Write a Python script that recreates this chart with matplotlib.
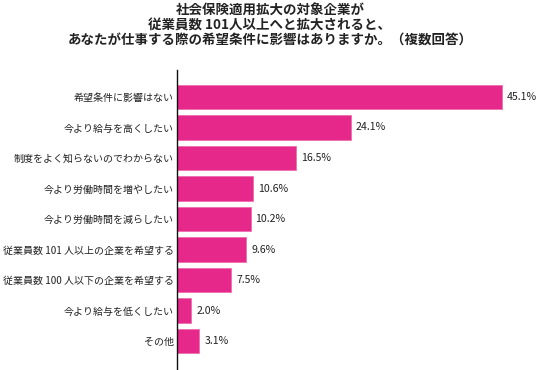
import matplotlib
matplotlib.use("Agg")
import matplotlib.pyplot as plt

plt.rcParams['font.family'] = ['Noto Sans CJK JP', 'DejaVu Sans']

# data
categories = ['希望条件に影響はない', '今より給与を高くしたい', '制度をよく知らないのでわからない',
              '今より労働時間を増やしたい', '今より労働時間を減らしたい',
              '従業員数 101 人以上の企業を希望する', '従業員数 100 人以下の企業を希望する',
              '今より給与を低くしたい', 'その他']
values = [45.1, 24.1, 16.5, 10.6, 10.2, 9.6, 7.5, 2.0, 3.1]
title_lines = ['社会保険適用拡大の対象企業が',
               '従業員数 101人以上へと拡大されると、',
               'あなたが仕事する際の希望条件に影響はありますか。（複数回答）']

bar_color = '#E5288A'

fig = plt.figure(figsize=(5.4, 3.7), dpi=100)
ax = fig.add_axes([177/540, 0, 360.5/540, 300/370])

ypos = list(range(len(categories)))
ax.barh(ypos, values, height=0.79, color=bar_color, edgecolor='#EE6FAE', linewidth=0.6)
ax.set_xlim(0, 50)
ax.set_ylim(8.95, -0.885)

for y, v in zip(ypos, values):
    ax.text(v + 0.7, y, '%.1f%%' % v, va='center', ha='left', fontsize=7.6, color='#222222')

ax.set_yticks(ypos)
ax.set_yticklabels(categories, fontsize=7.2, color='#222222')
ax.tick_params(axis='y', length=0, pad=2.5)
ax.set_xticks([])
for s in ['top', 'right', 'bottom']:
    ax.spines[s].set_visible(False)
ax.spines['left'].set_linewidth(1.0)
ax.spines['left'].set_color('#111111')

# three-line bold title
for i, line in enumerate(title_lines):
    fig.text(270/540, 1 - (11 + i*14.5)/370, line, ha='center', va='center',
             fontsize=9.7, fontweight='bold', color='#222222')

fig.savefig('out.png', dpi=100)
